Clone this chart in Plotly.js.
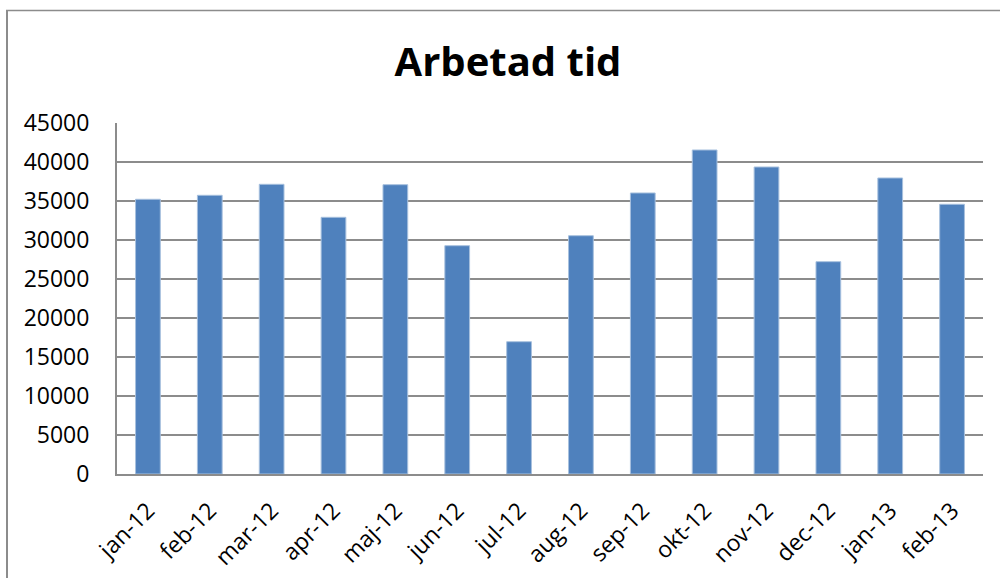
<!DOCTYPE html>
<html>
<head>
<meta charset="utf-8">
<script src="https://cdn.plot.ly/plotly-3.0.1.min.js"></script>
<style>html,body{margin:0;padding:0;background:#fff;}#chart{width:1000px;height:578px;}</style>
</head>
<body>
<div id="chart"></div>
<script>
const categories = ["jan-12","feb-12","mar-12","apr-12","maj-12","jun-12","jul-12","aug-12","sep-12","okt-12","nov-12","dec-12","jan-13","feb-13"];
const arbetadTid = [35220, 35730, 37140, 32910, 37090, 29270, 16960, 30550, 36030, 41540, 39360, 27220, 37950, 34580];
const yTicks = [0, 5000, 10000, 15000, 20000, 25000, 30000, 35000, 40000, 45000];
const chartTitle = "Arbetad tid";

const FONT = "Open Sans, Lato, Noto Sans, sans-serif";

const trace = {
  type: "bar",
  x: categories,
  y: arbetadTid,
  marker: {color: "#4F81BD", line: {color: "#A7C0DE", width: 1}},
  hoverinfo: "x+y"
};

const layout = {
  width: 1000,
  height: 578,
  margin: {l: 117, r: 17, t: 123, b: 104, pad: 0},
  paper_bgcolor: "#ffffff",
  plot_bgcolor: "#ffffff",
  showlegend: false,
  bargap: 0.6,
  title: {
    text: "<b>" + chartTitle + "</b>",
    font: {family: FONT, size: 40, color: "#000000"},
    xref: "container", x: 0.508, xanchor: "center",
    yref: "container", y: 0.893, yanchor: "middle"
  },
  xaxis: {
    type: "category",
    tickangle: -45,
    tickfont: {family: FONT, size: 23, color: "#000000"},
    showgrid: false,
    showline: true,
    linecolor: "#8c8c8c",
    linewidth: 2,
    ticks: "",
    ticklabelstandoff: 12,
    fixedrange: true
  },
  yaxis: {
    range: [0, 45000],
    tickvals: yTicks,
    tickformat: "d",
    tickfont: {family: FONT, size: 23, color: "#000000"},
    showgrid: true,
    gridcolor: "#8c8c8c",
    gridwidth: 2,
    showline: true,
    linecolor: "#8c8c8c",
    linewidth: 2,
    zeroline: false,
    ticks: "",
    ticklabelstandoff: 21,
    fixedrange: true
  },
  shapes: [
    {type: "line", xref: "paper", yref: "paper", x0: (7 - 117) / 866, x1: (7 - 117) / 866, y0: (474 - 10) / 351, y1: (474 - 600) / 351, line: {color: "#8c8c8c", width: 2}},
    {type: "line", xref: "paper", yref: "paper", x0: (6 - 117) / 866, x1: (1010 - 117) / 866, y0: (474 - 10.5) / 351, y1: (474 - 10.5) / 351, line: {color: "#8c8c8c", width: 1.5}}
  ]
};

Plotly.newPlot("chart", [trace], layout, {displayModeBar: false, staticPlot: true});
</script>
</body>
</html>
